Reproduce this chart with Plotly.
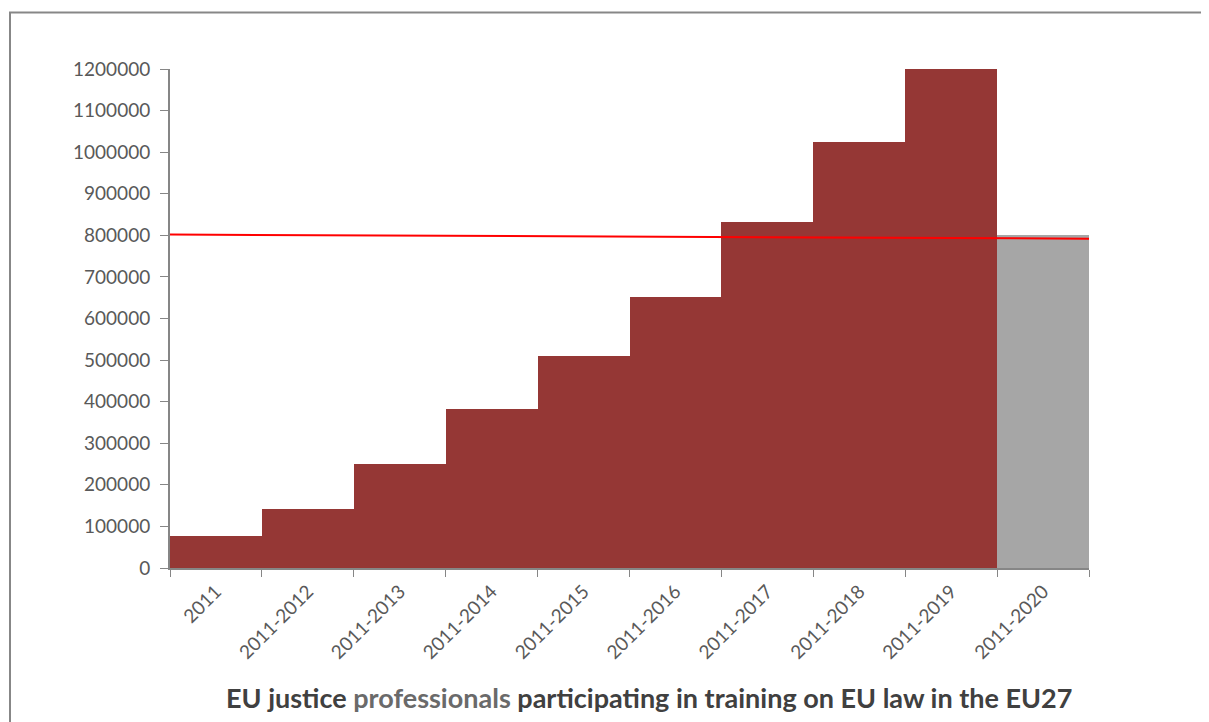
import plotly.graph_objects as go

# data
periods = ['2011', '2011-2012', '2011-2013', '2011-2014', '2011-2015',
           '2011-2016', '2011-2017', '2011-2018', '2011-2019', '2011-2020']
participants = [77000, 142000, 250000, 382000, 510000,
                652000, 833000, 1024000, 1200000, 800000]
bar_colors = ['#953735'] * 9 + ['#A6A6A6']
# red reference line, start and end value across the plot width
line_pos = [0, 1]
line_vals = [802000, 792000]

# page puts the figure 8px in from the top left
OFF = 8
W, H = 1209 - OFF, 722 - OFF
L, R, T, B = 170 - OFF, 1089 - OFF, 69 - OFF, 568 - OFF


def px(x):
    return (x - OFF - L) / (R - L)


def py(y):
    return (B - (y - OFF)) / (B - T)


fig = go.Figure()
fig.add_trace(go.Bar(x=periods, y=participants, marker=dict(color=bar_colors, line=dict(width=0)),
                     showlegend=False, hoverinfo='x+y'))
fig.add_trace(go.Scatter(x=line_pos, y=line_vals, xaxis='x2', mode='lines',
                         line=dict(color='#FF0000', width=2), showlegend=False))

fig.update_layout(
    width=W, height=H,
    margin=dict(l=L, r=W - R, t=T, b=H - B),
    paper_bgcolor='white', plot_bgcolor='white',
    bargap=0,
    font=dict(family='Lato, Open Sans, sans-serif', color='#595959', size=19),
    xaxis=dict(type='category', tickangle=-45, tickson='boundaries', ticks='outside',
               ticklen=7, tickcolor='#868686', showline=True, linecolor='#868686',
               linewidth=2, showgrid=False, ticklabelstandoff=3,
               tickfont=dict(size=19, color='#595959')),
    xaxis2=dict(overlaying='x', range=[0, 1], visible=False),
    yaxis=dict(range=[0, 1200000], dtick=100000, tickformat='d', ticks='outside',
               ticklen=8, tickcolor='#868686', showline=True, linecolor='#868686',
               linewidth=2, showgrid=False, zeroline=False, ticklabelstandoff=6,
               tickfont=dict(size=19, color='#595959')),
    shapes=[dict(type='rect', xref='paper', yref='paper',
                 x0=px(10), x1=px(1230), y0=py(745), y1=py(12.5),
                 line=dict(color='#878787', width=2), fillcolor='rgba(0,0,0,0)', layer='below')],
    annotations=[dict(
        text="EU justice <span style='color:#6a6a6a'>professionals</span> participating in training on EU law in the EU27",
        xref='paper', yref='paper', x=px(649), y=py(697), xanchor='center', yanchor='middle',
        showarrow=False,
        font=dict(size=27, color='#404040', family='Lato, Open Sans, sans-serif', weight='bold'))],
)

fig.write_html("out.html")
